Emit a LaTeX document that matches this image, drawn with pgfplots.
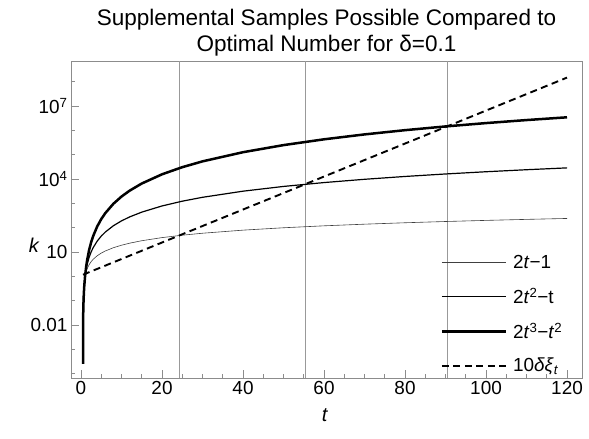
\documentclass[border=0pt]{standalone}
\usepackage{fontspec}
\setmainfont{Liberation Sans}
\usepackage{pgfplots}
\pgfplotsset{compat=1.18}

% t, 2t-1, 2t^2-t, 2t^3-t^2
\pgfplotstableread{
t       a       b          c
0.5005  0.001   0.0005005  0.0002505
0.501   0.002   0.001002   0.000502
0.502   0.004   0.002008   0.001008
0.505   0.01    0.00505    0.00255
0.51    0.02    0.0102     0.005202
0.52    0.04    0.0208     0.010816
0.55    0.1     0.055      0.03025
0.6     0.2     0.12       0.072
0.7     0.4     0.28       0.196
0.8     0.6     0.48       0.384
1       1       1          1
1.25    1.5     1.875      2.34375
1.5     2       3          4.5
2       3       6          12
2.5     4       10         25
3       5       15         45
4       7       28         112
5       9       45         225
6       11      66         396
8       15      120        960
10      19      190        1900
12      23      276        3312
15      29      435        6525
20      39      780        15600
25      49      1225       30625
30      59      1770       53100
40      79      3160       126400
50      99      4950       247500
60      119     7140       428400
70      139     9730       681100
80      159     12720      1017600
90      179     16110      1449900
100     199     19900      1990000
110     219     24090      2649900
120     239     28680      3441600
}\curves

\begin{document}
\begin{tikzpicture}
\begin{axis}[
    scale only axis,
    width=511bp, height=317bp,
    ymode=log,
    xmin=-2.47, xmax=123.7,
    ymin=6.6e-5, ymax=7.1e8,
    axis line style={black!45, line width=0.6pt},
    tick style={black!45, line width=0.6pt},
    tick align=inside,
    tick pos=left,
    major tick length=8bp,
    minor tick length=4bp,
    xtick={0,20,...,120},
    minor x tick num=3,
    ytick={0.01,10,10000,1e7},
    yticklabels={0.01,10,10\textsuperscript{4},10\textsuperscript{7}},
    minor ytick={1e-4,1e-3,0.1,1,100,1000,1e5,1e6,1e8},
    extra x ticks={24.3,55.4,90.5},
    extra x tick labels={},
    extra x tick style={grid=major, major tick length=0pt},
    major grid style={black!40, line width=0.5pt},
    ticklabel style={font=\fontsize{19}{22}\selectfont, text=black},
    /pgf/number format/assume math mode=true,
    title={Supplemental Samples Possible Compared to\\Optimal Number for δ=0.1},
    title style={font=\fontsize{22.6}{26.5}\selectfont, align=center, yshift=-5bp},
    xlabel={\textit{t}},
    ylabel={\textit{k}},
    label style={font=\fontsize{20}{22}\selectfont},
    xlabel style={at={(axis description cs:0.497,-0.117)}, anchor=center},
    ylabel style={rotate=-90, at={(axis description cs:-0.072,0.42)}, anchor=center},
    legend cell align=left,
    legend style={draw=none, fill=none, at={(axis description cs:0.717,0.40)},
        anchor=north west, font=\fontsize{19}{22}\selectfont, row sep=14bp,
        /tikz/every odd column/.append style={column sep=4bp}},
    legend image code/.code={\draw[#1] (0bp,0bp) -- (64bp,0bp);},
]
\addplot[black!75, line width=0.6bp] table[x=t, y=a] {\curves};
\addplot[black, line width=1.2bp] table[x=t, y=b] {\curves};
\addplot[black, line width=2.5bp] table[x=t, y=c] {\curves};
\addplot[black, line width=1.9bp, dash pattern=on 7bp off 4.5bp] coordinates {
    (0.5,1.166) (30,116.7) (60,12618) (90,1364600) (120,147570000)};
\legend{2\textit{t}−1, 2\textit{t}\textsuperscript{2}−t,
    2\textit{t}\textsuperscript{3}−\textit{t}\textsuperscript{2},
    10\textit{δξ}\textsubscript{\textit{t}}}
\end{axis}
\pgfresetboundingbox
\path[use as bounding box] (current axis.south west) ++(-71bp,-61bp) rectangle ++(589bp,439bp);
\end{tikzpicture}
\end{document}
